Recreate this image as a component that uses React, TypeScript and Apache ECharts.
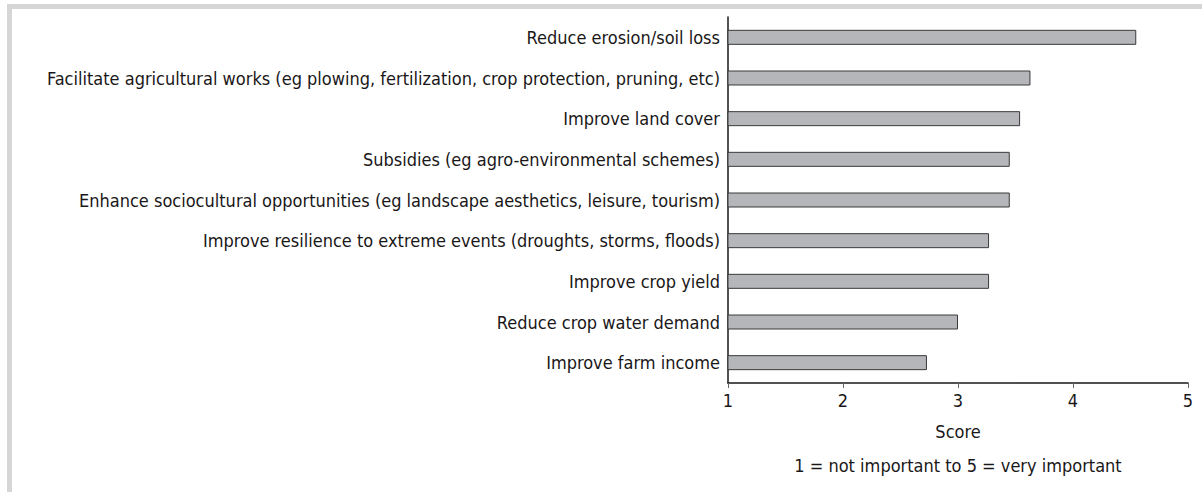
import React, { useEffect, useRef } from "react";
import * as echarts from "echarts";

const categories = [
  "Reduce erosion/soil loss",
  "Facilitate agricultural works (eg plowing, fertilization, crop protection, pruning, etc)",
  "Improve land cover",
  "Subsidies (eg agro-environmental schemes)",
  "Enhance sociocultural opportunities (eg landscape aesthetics, leisure, tourism)",
  "Improve resilience to extreme events (droughts, storms, floods)",
  "Improve crop yield",
  "Reduce crop water demand",
  "Improve farm income",
];
const scores = [4.55, 3.63, 3.54, 3.45, 3.45, 3.27, 3.27, 3.0, 2.73];
const axisTitle = "Score";
const axisSubtitle = "1 = not important to 5 = very important";

const FONT = "'DejaVu Sans Condensed', 'Liberation Sans Narrow', sans-serif";
const TEXT = "#1a1718";

export default function App() {
  const ref = useRef<HTMLDivElement>(null);
  useEffect(() => {
    const chart = echarts.init(ref.current!, undefined, { renderer: "svg" });
    chart.setOption({
      animation: false,
      backgroundColor: "#ffffff",
      grid: { left: 728, right: 14, top: 17, bottom: 109, containLabel: false },
      xAxis: {
        type: "value",
        min: 1,
        max: 5,
        interval: 1,
        name: axisTitle + "\n" + axisSubtitle,
        nameLocation: "middle",
        nameGap: 31,
        nameTextStyle: { fontFamily: FONT, fontSize: 18, color: TEXT, lineHeight: 34, verticalAlign: "top" },
        axisLine: { show: true, lineStyle: { color: TEXT, width: 1.5 } },
        axisTick: { show: true, length: 5, lineStyle: { color: "#666" } },
        axisLabel: { fontFamily: FONT, fontSize: 18, color: TEXT, margin: 8 },
        splitLine: { show: false },
      },
      yAxis: {
        type: "category",
        data: categories,
        inverse: true,
        axisLine: { show: true, lineStyle: { color: TEXT, width: 1.5 } },
        axisTick: { show: false },
        axisLabel: { fontFamily: FONT, fontSize: 18, color: TEXT, margin: 8 },
      },
      series: [
        {
          type: "bar",
          data: scores,
          barWidth: 15,
          itemStyle: { color: "#b5b6ba", borderColor: "#3a3a3a", borderWidth: 1 },
        },
      ],
      graphic: [
        { type: "rect", shape: { x: 7, y: 4, width: 5, height: 488 }, style: { fill: "#d6d6d6" }, silent: true },
        { type: "rect", shape: { x: 7, y: 4, width: 1195, height: 5 }, style: { fill: "#d6d6d6" }, silent: true },
      ],
    });
    return () => chart.dispose();
  }, []);
  return (
    <div
      ref={ref}
      style={{ position: "absolute", left: 0, top: 0, width: 1202, height: 492 }}
    />
  );
}
